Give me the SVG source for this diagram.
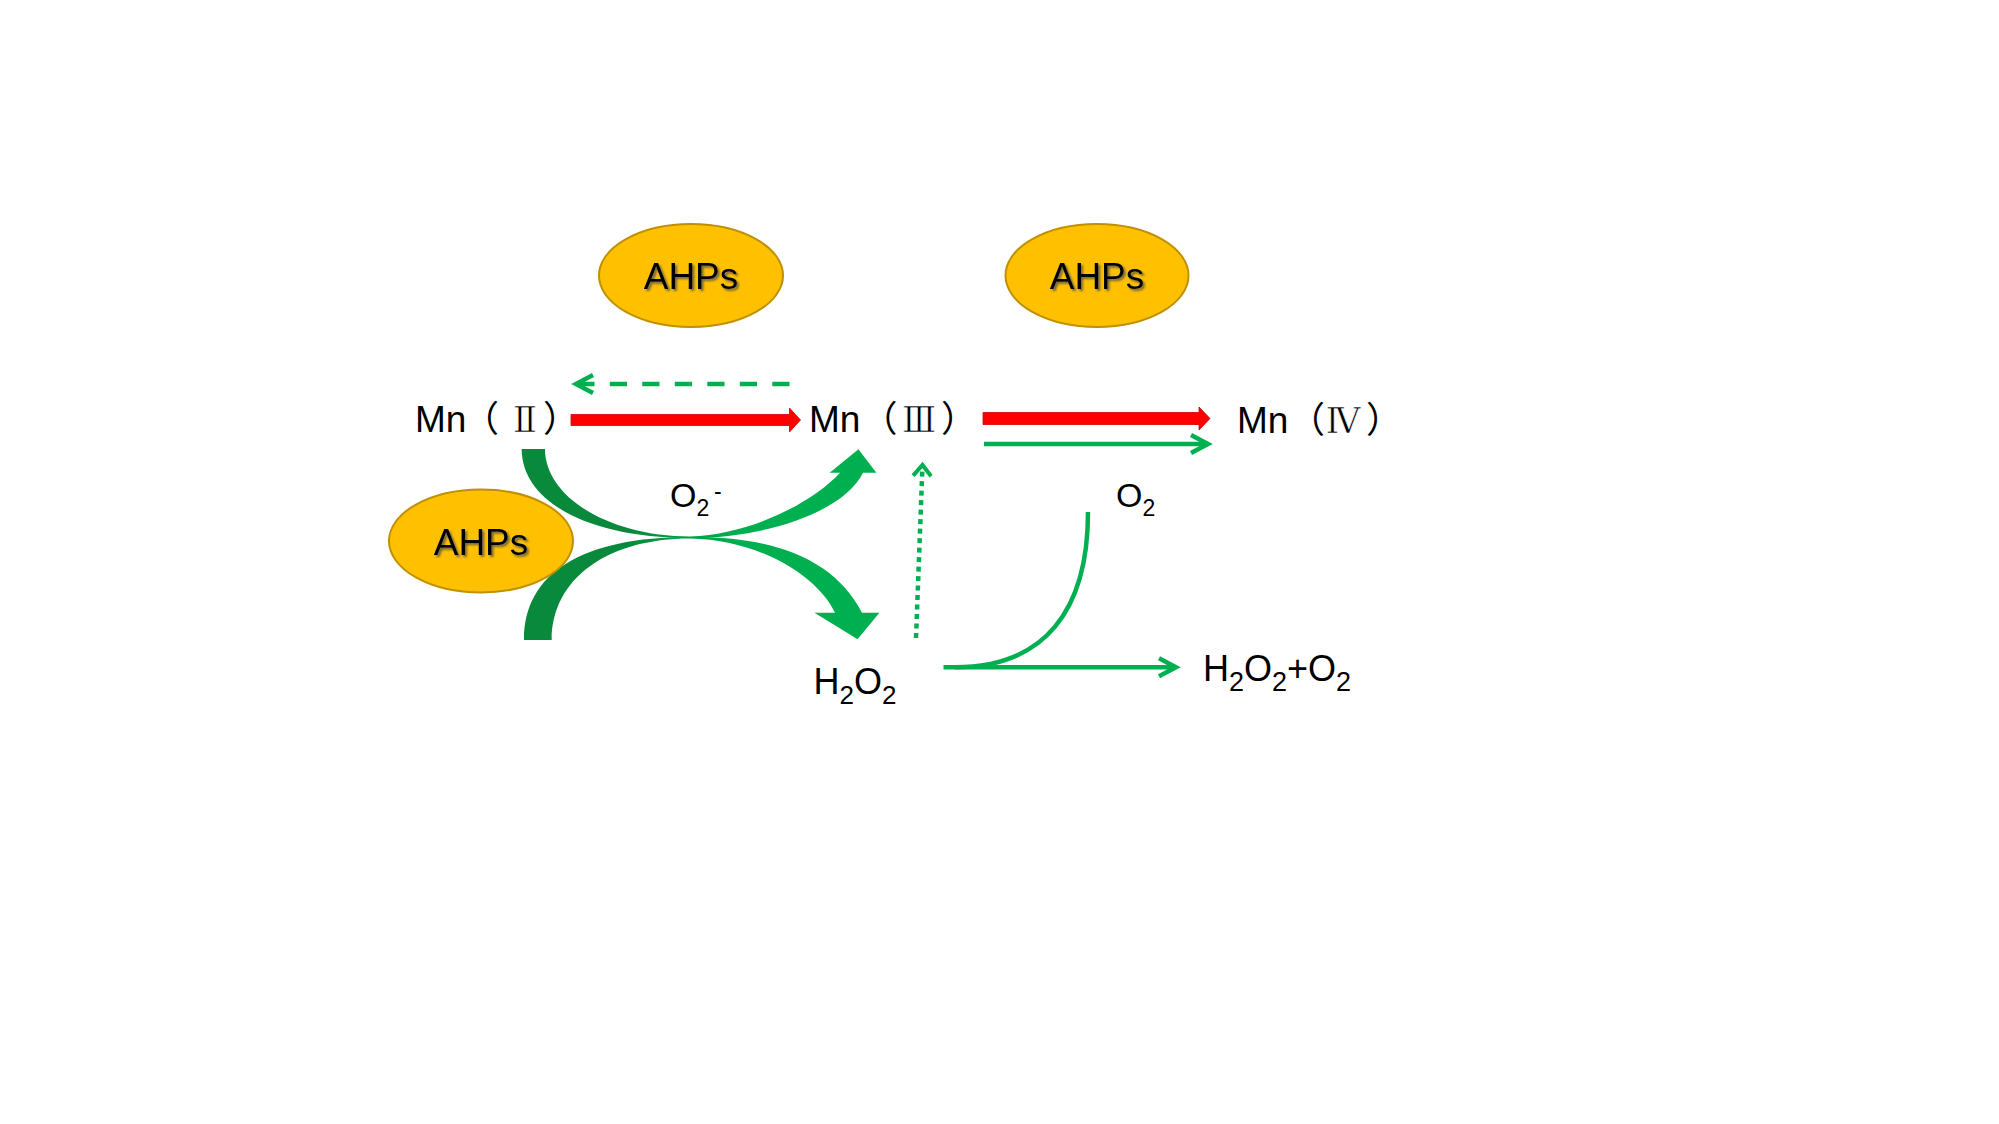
<svg xmlns="http://www.w3.org/2000/svg" width="1999" height="1124" viewBox="0 0 1999 1124">
<style>
.lbl{font-family:"Liberation Sans",Arial,sans-serif;fill:#000}
.cjk{font-family:"Noto Sans CJK SC",sans-serif}
.rn{font-family:"Liberation Serif","DejaVu Serif",serif;stroke:#FFFFFF;stroke-width:0.7}
.ell{fill:#FFC000;stroke:#BF9000;stroke-width:2}
.ahp{font-family:"Liberation Sans",Arial,sans-serif;font-size:37px;fill:#000;text-anchor:middle;filter:url(#sh)}
.g{fill:none;stroke:#00B050;stroke-width:4.5}
.red{fill:#FF0000;stroke:#D00000;stroke-width:0.8}
</style>
<defs>
<filter id="sh" x="-20%" y="-20%" width="140%" height="140%">
<feDropShadow dx="2" dy="2" stdDeviation="1.2" flood-color="#505050" flood-opacity="0.8"/>
</filter>
<linearGradient id="gg" gradientUnits="userSpaceOnUse" x1="630" y1="0" x2="745" y2="0">
<stop offset="0" stop-color="#08893C"/>
<stop offset="1" stop-color="#00B050"/>
</linearGradient>
<marker id="ah" markerUnits="userSpaceOnUse" viewBox="-22 -12 26 24" markerWidth="26" markerHeight="24" refX="0" refY="0" orient="auto" overflow="visible">
<path d="M-17,-9 L0,0 L-17,9" fill="none" stroke="#00B050" stroke-width="4.5"/>
</marker>
<marker id="ahs" markerUnits="userSpaceOnUse" viewBox="-16 -12 20 24" markerWidth="20" markerHeight="24" refX="0" refY="0" orient="auto" overflow="visible">
<path d="M-11,-9 L0,0 L-11,9" fill="none" stroke="#00B050" stroke-width="4"/>
</marker>
</defs>
<rect width="1999" height="1124" fill="#FFFFFF"/>

<g id="connectors">
<path class="red" d="M571,414.5 L789.5,414.5 L789.5,408 L800.5,420 L789.5,432 L789.5,425.5 L571,425.5 Z"/>
<path class="red" d="M983,412.5 L1199,412.5 L1199,407 L1210,418.5 L1199,430 L1199,424.5 L983,424.5 Z"/>
<path class="g" d="M984,444 L1208,444" marker-end="url(#ah)"/>
<path class="g" d="M789.5,384 L576,384" stroke-dasharray="17.2 15.3" marker-end="url(#ah)"/>
<path class="g" d="M916,638 L922.5,465" stroke-width="4" stroke-dasharray="5 4.5" marker-end="url(#ahs)"/>
<path class="g" d="M1088,512 C1088,610 1045,667.3 955,667.3"/>
<path class="g" d="M943.5,667.3 L1176,667.3" marker-end="url(#ah)"/>
<path fill="url(#gg)" d="M521.7,449 L545,449 C545,497.3 609.9,536.5 690,536.5 C755,534 815,500 840,472.7 L829.7,472.7 L858.4,449.3 L876.4,472.7 L863,472.7 C845,510 770,538 690,538 C589,538 521.7,502 521.7,449 Z"/>
<path fill="url(#gg)" d="M524,640 C524,573 582,537 690,537 C775,536 835,560 862,612.7 L879.4,612.7 L857.6,639.3 L814.4,612.7 L835,612.7 C820,580 765,540 690,538.5 C607,538.5 551.7,579 551.7,640 Z"/>
</g>

<g id="ahps1">
<ellipse class="ell" cx="691" cy="275.5" rx="92" ry="51.5"/>
<text class="ahp" x="691" y="289">AHPs</text>
</g>
<g id="ahps2">
<ellipse class="ell" cx="1097" cy="275.5" rx="91.5" ry="51.5"/>
<text class="ahp" x="1097" y="289">AHPs</text>
</g>
<g id="ahps3">
<ellipse class="ell" cx="481" cy="541" rx="92" ry="51.5"/>
<text class="ahp" x="481" y="554.5">AHPs</text>
</g>

<g id="mn2">
<text class="lbl" font-size="37" x="415" y="432">Mn<tspan class="cjk" font-size="36" x="463">（</tspan><tspan class="rn" font-size="36" x="525" text-anchor="middle">Ⅱ</tspan><tspan class="cjk" font-size="36" x="543">）</tspan></text>
</g>
<g id="mn3">
<text class="lbl" font-size="37" x="809" y="432">Mn<tspan class="cjk" font-size="36" x="861.5">（</tspan><tspan class="rn" font-size="36" x="919" text-anchor="middle">Ⅲ</tspan><tspan class="cjk" font-size="36" x="941">）</tspan></text>
</g>
<g id="mn4">
<text class="lbl" font-size="37" x="1237" y="433">Mn<tspan class="cjk" font-size="36" x="1289">（</tspan><tspan class="rn" font-size="35" x="1343" text-anchor="middle">Ⅳ</tspan><tspan class="cjk" font-size="36" x="1366">）</tspan></text>
</g>

<g id="o2minus">
<text class="lbl" font-size="34" x="670" y="507">O<tspan font-size="23" dy="9">2</tspan><tspan font-size="23" x="714" dy="-17">-</tspan></text>
</g>
<g id="o2">
<text class="lbl" font-size="34" x="1116" y="507">O<tspan font-size="23" dy="9">2</tspan></text>
</g>
<g id="h2o2">
<text class="lbl" font-size="36" x="813.5" y="693.5">H<tspan font-size="26" dy="10">2</tspan><tspan dy="-10">O</tspan><tspan font-size="26" dy="10">2</tspan></text>
</g>
<g id="h2o2o2">
<text class="lbl" font-size="36" x="1203" y="681">H<tspan font-size="27" dy="10">2</tspan><tspan dy="-10">O</tspan><tspan font-size="27" dy="10">2</tspan><tspan dy="-10">+O</tspan><tspan font-size="27" dy="10">2</tspan></text>
</g>
</svg>
